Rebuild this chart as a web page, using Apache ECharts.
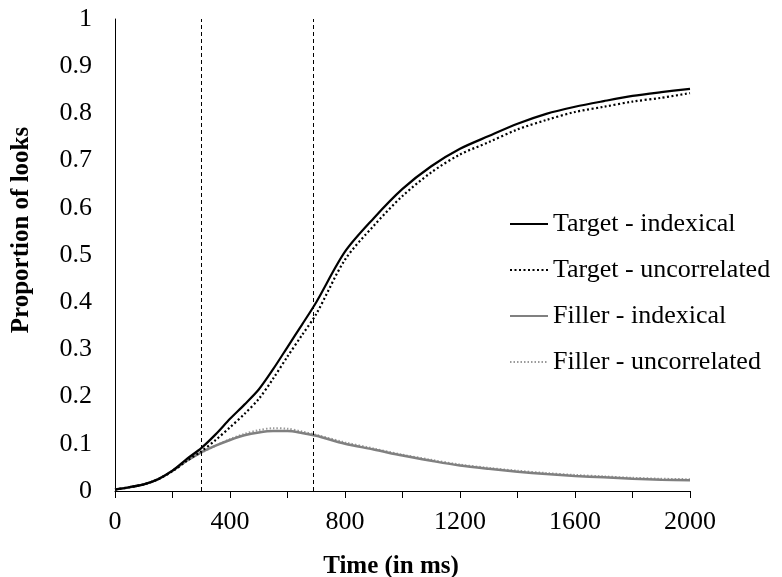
<!DOCTYPE html>
<html>
<head>
<meta charset="utf-8">
<script src="https://cdn.jsdelivr.net/npm/echarts@6/dist/echarts.min.js"></script>
<style>html,body{margin:0;padding:0;background:#fff}#c{width:782px;height:577px}</style>
</head>
<body>
<div id="c"></div>
<script>
var times = [0,50,100,150,200,250,300,350,400,450,500,550,600,650,700,800,900,1000,1100,1200,1300,1400,1500,1600,1700,1800,1900,2000];
var targetIndexical = [0.003,0.008,0.014,0.025,0.043,0.068,0.091,0.12,0.153,0.183,0.215,0.258,0.305,0.352,0.40,0.507,0.578,0.64,0.688,0.725,0.752,0.778,0.799,0.814,0.826,0.837,0.845,0.852];
var targetUncorrelated = [0.003,0.008,0.014,0.025,0.042,0.064,0.084,0.108,0.135,0.163,0.195,0.238,0.285,0.33,0.375,0.49,0.562,0.625,0.675,0.713,0.739,0.766,0.786,0.803,0.814,0.825,0.833,0.843];
var fillerIndexical = [0.003,0.008,0.014,0.025,0.043,0.064,0.082,0.096,0.108,0.118,0.124,0.127,0.127,0.123,0.117,0.10,0.088,0.075,0.064,0.054,0.047,0.041,0.036,0.032,0.029,0.026,0.024,0.023];
var fillerUncorrelated = [0.003,0.008,0.014,0.025,0.043,0.064,0.081,0.096,0.11,0.121,0.129,0.133,0.132,0.126,0.119,0.103,0.09,0.077,0.066,0.056,0.049,0.043,0.038,0.034,0.031,0.028,0.026,0.025];
var seriesNames = ['Target - indexical','Target - uncorrelated','Filler - indexical','Filler - uncorrelated'];
var markerTimes = [300, 690];
var xTickLabels = [0,400,800,1200,1600,2000];

function pairs(v){ return times.map(function(t,i){ return [t, v[i]]; }); }
var font = 'Liberation Serif';
var chart = echarts.init(document.getElementById('c'));
chart.setOption({
  animation:false,
  grid:{left:115,right:92,top:19,bottom:86},
  xAxis:{type:'value',min:0,max:2000,interval:200,
    axisLine:{lineStyle:{color:'#000',width:1}},
    axisTick:{show:true,length:7,lineStyle:{color:'#000'}},
    splitLine:{show:false},
    axisLabel:{margin:18,fontFamily:font,fontSize:26,color:'#000',
      formatter:function(v){return xTickLabels.indexOf(v)>=0?String(v):'';}}},
  yAxis:{type:'value',min:0,max:1,interval:0.1,
    axisLine:{show:true,lineStyle:{color:'#000',width:1}},
    axisTick:{show:false},
    splitLine:{show:false},
    axisLabel:{margin:23,fontFamily:font,fontSize:26,color:'#000',
      formatter:function(v){return String(Math.round(v*10)/10);}}},
  legend:{orient:'vertical',left:509,top:211,padding:0,itemWidth:38,itemHeight:26,itemGap:20,
    itemStyle:{opacity:0},
    textStyle:{fontFamily:font,fontSize:26,color:'#000'},
    data:seriesNames},
  graphic:[
    {type:'text',left:'center',top:554,style:{text:'Time (in ms)',font:'bold 25px "Liberation Serif"',fill:'#000'}},
    {type:'text',x:9,y:230,rotation:Math.PI/2,style:{text:'Proportion of looks',font:'bold 25px "Liberation Serif"',fill:'#000',align:'center',verticalAlign:'top'}}
  ],
  series:[
    {name:seriesNames[0],type:'line',data:pairs(targetIndexical),symbol:'none',showSymbol:false,smooth:0.3,
      lineStyle:{color:'#000',width:2.2},itemStyle:{color:'#000'},z:4,
      markLine:{silent:true,symbol:'none',label:{show:false},
        lineStyle:{color:'#000',type:[4,3],width:1},
        data:markerTimes.map(function(t){return {xAxis:t};})}},
    {name:seriesNames[1],type:'line',data:pairs(targetUncorrelated),symbol:'none',showSymbol:false,smooth:0.3,
      lineStyle:{color:'#000',width:2.2,type:[2,2.5]},itemStyle:{color:'#000'},z:3},
    {name:seriesNames[2],type:'line',data:pairs(fillerIndexical),symbol:'none',showSymbol:false,smooth:0.3,
      lineStyle:{color:'#808080',width:2.5},itemStyle:{color:'#808080'},z:2},
    {name:seriesNames[3],type:'line',data:pairs(fillerUncorrelated),symbol:'none',showSymbol:false,smooth:0.3,
      lineStyle:{color:'#9a9a9a',width:2,type:[1.5,2]},itemStyle:{color:'#9a9a9a'},z:1}
  ]
});
</script>
</body>
</html>
